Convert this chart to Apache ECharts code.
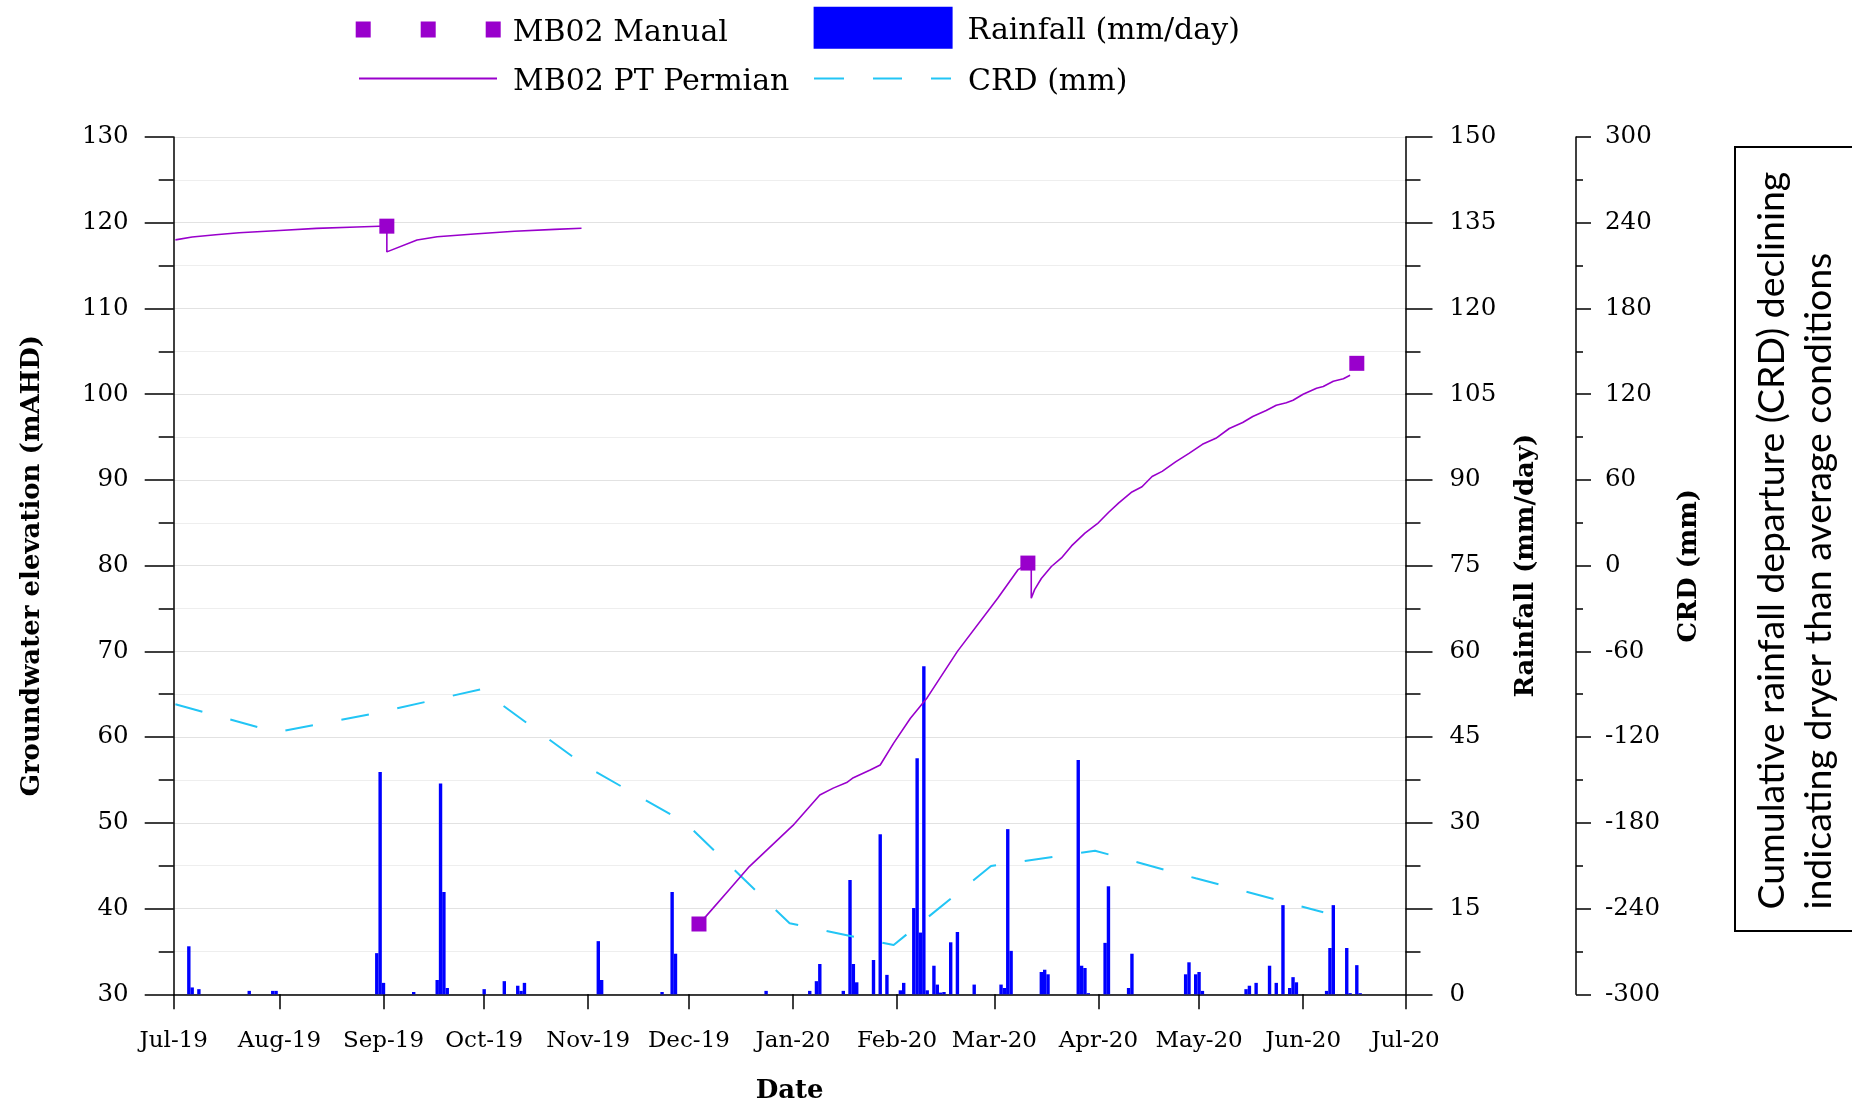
<!DOCTYPE html>
<html>
<head>
<meta charset="utf-8">
<script src="https://cdn.jsdelivr.net/npm/echarts@6/dist/echarts.min.js"></script>
<style>
html,body{margin:0;padding:0;background:#fff;}
#chart{width:1852px;height:1103px;}
</style>
</head>
<body>
<div id="chart"></div>
<script>
// ---------------- data ----------------
const monthNames = ['Jan','Feb','Mar','Apr','May','Jun','Jul','Aug','Sep','Oct','Nov','Dec'];
const dateStart = '2019-07-01';
const dateEnd = '2020-07-01';

const rainDates = ['2019-07-05','2019-07-06','2019-07-08','2019-07-23','2019-07-30','2019-07-31',
  '2019-08-30','2019-08-31','2019-09-01','2019-09-10','2019-09-17','2019-09-18','2019-09-19','2019-09-20',
  '2019-10-01','2019-10-07','2019-10-11','2019-10-12','2019-10-13','2019-11-04','2019-11-05','2019-11-23',
  '2019-11-26','2019-11-27','2019-12-24','2020-01-06','2020-01-08','2020-01-09','2020-01-16','2020-01-18',
  '2020-01-19','2020-01-20','2020-01-25','2020-01-27','2020-01-29','2020-02-02','2020-02-03','2020-02-06',
  '2020-02-07','2020-02-08','2020-02-09','2020-02-10','2020-02-12','2020-02-13','2020-02-14','2020-02-15',
  '2020-02-17','2020-02-19','2020-02-24','2020-03-03','2020-03-04','2020-03-05','2020-03-06','2020-03-15',
  '2020-03-16','2020-03-17','2020-03-26','2020-03-27','2020-03-28','2020-03-29','2020-04-03','2020-04-04',
  '2020-04-10','2020-04-11','2020-04-27','2020-04-28','2020-04-30','2020-05-01','2020-05-02','2020-05-15',
  '2020-05-16','2020-05-18','2020-05-22','2020-05-24','2020-05-26','2020-05-28','2020-05-29','2020-05-30',
  '2020-06-08','2020-06-09','2020-06-10','2020-06-14','2020-06-15','2020-06-17','2020-06-18'];
const rainValues = [8.4,1.2,0.9,0.6,0.6,0.6,
  7.2,38.9,2.0,0.4,2.5,36.9,17.9,1.1,
  0.9,2.3,1.5,0.6,2.0,9.3,2.5,0.4,
  17.9,7.1,0.6,0.6,2.3,5.3,0.6,20.0,
  5.3,2.1,6.0,28.0,3.4,0.7,2.0,15.1,
  41.3,10.8,57.4,0.7,5.0,1.7,0.3,0.4,
  9.1,10.9,1.7,1.7,1.1,28.9,7.6,3.9,
  4.3,3.5,41.0,5.0,4.6,0.2,9.0,18.9,
  1.1,7.1,3.5,5.6,3.5,3.9,0.6,0.9,
  1.5,2.0,5.0,2.0,15.6,1.1,3.0,2.1,
  0.6,8.1,15.6,8.1,0.2,5.1,0.2];

const crdDates = ['2019-07-01','2019-07-31','2019-08-31','2019-09-30','2019-10-31','2019-11-30',
  '2019-12-31','2020-01-31','2020-02-29','2020-03-31','2020-04-30','2020-05-31','2020-06-07'];
const crdValues = [-97,-116.6,-102.6,-86.5,-140,-180,-250.3,-265.5,-210.2,-199.5,-218.8,-238.2,-242.6];

// MB02 PT Permian logger record, two segments
const ptDates1 = ['2019-07-01','2019-07-06','2019-07-13','2019-07-20','2019-08-01','2019-08-12','2019-08-24',
  '2019-09-02','2019-09-02','2019-09-11','2019-09-17','2019-09-28','2019-10-10','2019-10-22','2019-10-30'];
const ptValues1 = [118.0,118.34,118.6,118.84,119.1,119.34,119.5,
  119.62,116.6,117.99,118.37,118.69,119.0,119.23,119.35];
const ptDates2 = ['2019-12-04','2019-12-06','2019-12-13','2019-12-19','2020-01-01','2020-01-09','2020-01-13',
  '2020-01-17','2020-01-19','2020-01-24','2020-01-27','2020-01-31','2020-02-05','2020-02-10','2020-02-19',
  '2020-03-02','2020-03-08','2020-03-12','2020-03-12','2020-03-13','2020-03-15','2020-03-18','2020-03-21',
  '2020-03-24','2020-03-28','2020-04-01','2020-04-04','2020-04-07','2020-04-11','2020-04-14','2020-04-17',
  '2020-04-20','2020-04-24','2020-04-28','2020-05-02','2020-05-06','2020-05-10','2020-05-14','2020-05-17',
  '2020-05-21','2020-05-24','2020-05-27','2020-05-29','2020-06-01','2020-06-05','2020-06-07','2020-06-10',
  '2020-06-13','2020-06-15'];
const ptValues2 = [38.3,39.06,42.2,44.9,49.7,53.25,54.05,
  54.7,55.27,56.16,56.75,59.3,62.2,64.6,70.0,
  76.2,79.5,80.5,76.2,77.2,78.5,79.9,80.9,
  82.3,83.8,85.0,86.2,87.3,88.6,89.2,90.4,
  91.0,92.1,93.1,94.15,94.85,96.0,96.7,97.4,
  98.1,98.7,99.0,99.3,100.0,100.7,100.9,101.5,
  101.8,102.2];

const manualDates = ['2019-09-02','2019-12-04','2020-03-11','2020-06-17'];
const manualValues = [119.6,38.2,80.3,103.6];

const boxLine1 = 'Cumulative rainfall departure (CRD) declining';
const boxLine2 = 'indicating dryer than average conditions';

// ---------------- build ----------------
const SERIF = 'DejaVu Serif';
// parse 'YYYY-MM-DD' as a local-time timestamp so ticks and data share one clock
const ts = s => { const p = s.split('-').map(Number); return new Date(p[0], p[1] - 1, p[2]).getTime(); };
const zip = (a, b) => a.map((d, i) => [ts(d), b[i]]);
const ptData = zip(ptDates1, ptValues1).concat([[ts('2019-11-15'), '-']], zip(ptDates2, ptValues2));

// month label of the nearest month start (robust to time-zone offsets of the tick value)
function monthLabel(v) {
  const d = new Date(v);
  let m = d.getMonth(), y = d.getFullYear();
  if (d.getDate() > 15) { m += 1; if (m > 11) { m = 0; y += 1; } }
  return monthNames[m] + '-' + String(y).slice(2);
}

// fit the box text (Calibri-like) to the reference line length
const ctx = document.createElement('canvas').getContext('2d');
ctx.font = '40px Lato';
const boxFont = 40 * 738 / ctx.measureText(boxLine1).width;

const chart = echarts.init(document.getElementById('chart'), null, {renderer: 'canvas'});

const yTickFont = {fontFamily: SERIF, fontSize: 24.5, color: '#000'};
const xTickFont = {fontFamily: SERIF, fontSize: 23, color: '#000'};
const nameFont = {fontFamily: SERIF, fontSize: 26, fontWeight: 'bold', color: '#000'};
const axisLine = {show: true, lineStyle: {color: '#000', width: 1.5}};

const legendText = {fontFamily: SERIF, fontSize: 30, color: '#000'};
const legendBase = {
  orient: 'horizontal', padding: 0, itemGap: 0, selectedMode: false,
  itemStyle: {borderWidth: 0}, lineStyle: {width: 0}
};
// legend icons: the tiny speck at the bottom of each path lowers the icon box centre,
// so the label sits level with the visible mark as in the reference
chart.setOption({
  animation: false,
  backgroundColor: '#fff',
  grid: {left: 173.7, right: 446.5, top: 137, bottom: 108.7, containLabel: false, outerBoundsMode: 'none'},
  legend: [
    Object.assign({}, legendBase, {left: 355.7, top: 18.6, itemWidth: 145, itemHeight: 24,
      data: [{name: 'MB02 Manual', icon: 'path://M0,0h15v16h-15zM65,0h15v16h-15zM130,0h15v16h-15zM0,23.99h0.01v0.01h-0.01z'}],
      textStyle: Object.assign({}, legendText, {padding: [0, 0, 0, 7]})}),
    Object.assign({}, legendBase, {left: 813.6, top: 6.7, itemWidth: 139, itemHeight: 50,
      data: [{name: 'Rainfall (mm/day)', icon: 'path://M0,0h139v42h-139zM0,49.99h0.01v0.01h-0.01z'}],
      textStyle: Object.assign({}, legendText, {padding: [0, 0, 0, 10]})}),
    Object.assign({}, legendBase, {left: 359, top: 67.6, itemWidth: 138, itemHeight: 10,
      data: [{name: 'MB02 PT Permian', icon: 'path://M0,0h138v2h-138zM0,9.99h0.01v0.01h-0.01z'}],
      textStyle: Object.assign({}, legendText, {padding: [0, 0, 0, 11]})}),
    Object.assign({}, legendBase, {left: 814, top: 67.6, itemWidth: 137, itemHeight: 10,
      data: [{name: 'CRD (mm)', icon: 'path://M0,0h30v2h-30zM59,0h29v2h-29zM117,0h20v2h-20zM0,9.99h0.01v0.01h-0.01z'}],
      textStyle: Object.assign({}, legendText, {padding: [0, 0, 0, 12]})})
  ],
  xAxis: {
    type: 'time', min: ts(dateStart), max: ts(dateEnd), splitNumber: 12,
    minInterval: 28 * 86400000, maxInterval: 31 * 86400000,
    name: 'Date', nameLocation: 'middle', nameGap: 84, nameTextStyle: nameFont,
    axisLine: axisLine,
    axisTick: {show: true, inside: false, length: 15, lineStyle: {color: '#000', width: 1.5}},
    minorTick: {show: false},
    splitLine: {show: false},
    axisLabel: Object.assign({}, xTickFont, {margin: 35, showMinLabel: true, showMaxLabel: true, hideOverlap: false,
      formatter: monthLabel})
  },
  yAxis: [
    {
      type: 'value', position: 'left', min: 30, max: 130, interval: 10,
      name: 'Groundwater elevation (mAHD)', nameLocation: 'middle', nameRotate: 90, nameGap: 128.5,
      nameTextStyle: nameFont,
      axisLine: axisLine,
      axisTick: {show: true, inside: false, length: 29, lineStyle: {color: '#000', width: 1.5}},
      minorTick: {show: true, splitNumber: 2, length: 15, lineStyle: {color: '#000', width: 1.5}},
      splitLine: {show: true, lineStyle: {color: '#e2e2e2', width: 1.2}},
      minorSplitLine: {show: true, lineStyle: {color: '#eeeeee', width: 1.2}},
      axisLabel: Object.assign({}, yTickFont, {margin: 45})
    },
    {
      type: 'value', position: 'right', offset: 0, min: 0, max: 150, interval: 15,
      name: 'Rainfall (mm/day)', nameLocation: 'middle', nameRotate: 90, nameGap: 107.5,
      nameTextStyle: nameFont,
      axisLine: axisLine,
      axisTick: {show: true, inside: false, length: 27, lineStyle: {color: '#000', width: 1.5}},
      minorTick: {show: true, splitNumber: 2, length: 15, lineStyle: {color: '#000', width: 1.5}},
      splitLine: {show: false},
      axisLabel: Object.assign({}, yTickFont, {margin: 44})
    },
    {
      type: 'value', position: 'right', offset: 170.5, min: -300, max: 300, interval: 60,
      name: 'CRD (mm)', nameLocation: 'middle', nameRotate: 90, nameGap: 100,
      nameTextStyle: nameFont,
      axisLine: axisLine,
      axisTick: {show: true, inside: false, length: 15, lineStyle: {color: '#000', width: 1.5}},
      minorTick: {show: true, splitNumber: 2, length: 7, lineStyle: {color: '#000', width: 1.5}},
      splitLine: {show: false},
      axisLabel: Object.assign({}, yTickFont, {margin: 29})
    }
  ],
  series: [
    {
      name: 'Rainfall (mm/day)', type: 'bar', yAxisIndex: 1, z: 2,
      barWidth: 3.4, itemStyle: {color: '#0000FF'},
      data: zip(rainDates, rainValues)
    },
    {
      name: 'CRD (mm)', type: 'line', yAxisIndex: 2, z: 3, symbol: 'none',
      itemStyle: {color: '#22C5F5'},
      lineStyle: {color: '#22C5F5', width: 2, type: [28, 29]},
      data: zip(crdDates, crdValues)
    },
    {
      name: 'MB02 PT Permian', type: 'line', yAxisIndex: 0, z: 4, symbol: 'none', connectNulls: false,
      itemStyle: {color: '#9900CC'},
      lineStyle: {color: '#9900CC', width: 1.6},
      data: ptData
    },
    {
      name: 'MB02 Manual', type: 'scatter', yAxisIndex: 0, z: 5, symbol: 'rect', symbolSize: 15,
      itemStyle: {color: '#9900CC', opacity: 1},
      data: zip(manualDates, manualValues)
    }
  ],
  graphic: [
    {type: 'rect', shape: {x: 1735, y: 147, width: 140, height: 784},
      style: {fill: 'none', stroke: '#000', lineWidth: 2}},
    {type: 'text', x: 1771.7, y: 909.5, rotation: Math.PI / 2,
      style: {text: boxLine1, fontFamily: 'Lato', fontSize: boxFont, fill: '#000', align: 'left', verticalAlign: 'middle'}},
    {type: 'text', x: 1819, y: 909.5, rotation: Math.PI / 2,
      style: {text: boxLine2, fontFamily: 'Lato', fontSize: boxFont, fill: '#000', align: 'left', verticalAlign: 'middle'}}
  ]
});
</script>
</body>
</html>
